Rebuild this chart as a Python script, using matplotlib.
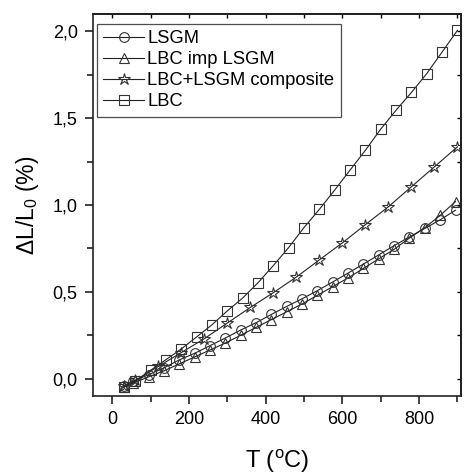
import numpy as np
import matplotlib
matplotlib.use("Agg")
import matplotlib.pyplot as plt
from matplotlib.ticker import MultipleLocator, FuncFormatter

plt.rcParams['font.family'] = ['Liberation Sans', 'DejaVu Sans']
plt.rcParams['mathtext.fontset'] = 'custom'
plt.rcParams['mathtext.rm'] = 'Liberation Sans'
plt.rcParams['mathtext.it'] = 'Liberation Sans'

# temperatures (C) and dL/L0 (%)
t_lsgm = [30, 55, 95, 135, 175, 215, 255, 295, 335, 375, 415, 455, 495, 535, 575,
          615, 655, 695, 735, 775, 815, 855, 895]
lsgm = [-0.045, -0.015, 0.023, 0.062, 0.108, 0.146, 0.19, 0.234, 0.28, 0.322, 0.37,
        0.416, 0.46, 0.507, 0.557, 0.608, 0.66, 0.713, 0.766, 0.816, 0.865, 0.915, 0.97]

t_imp = t_lsgm
imp = [-0.05, -0.025, 0.01, 0.045, 0.085, 0.125, 0.165, 0.205, 0.25, 0.295, 0.34,
       0.385, 0.43, 0.48, 0.53, 0.58, 0.635, 0.69, 0.745, 0.81, 0.87, 0.94, 1.02]

t_comp = [30, 60, 120, 180, 240, 300, 360, 420, 480, 540, 600, 660, 720, 780, 840, 900]
comp = [-0.04, -0.01, 0.07, 0.15, 0.23, 0.32, 0.41, 0.495, 0.585, 0.684, 0.782,
        0.887, 0.99, 1.105, 1.22, 1.335]

t_lbc = [30, 60, 100, 140, 180, 220, 260, 300, 340, 380, 420, 460, 500, 540, 580,
         620, 660, 700, 740, 780, 820, 860, 900]
lbc = [-0.05, -0.016, 0.048, 0.109, 0.171, 0.24, 0.31, 0.39, 0.464, 0.552, 0.651,
       0.755, 0.87, 0.975, 1.086, 1.201, 1.315, 1.437, 1.546, 1.648, 1.757, 1.881, 2.006]

series = [
    (t_lsgm, lsgm, 'o', 'LSGM'),
    (t_imp, imp, '^', 'LBC imp LSGM'),
    (t_comp, comp, '*', 'LBC+LSGM composite'),
    (t_lbc, lbc, 's', 'LBC'),
]

fig = plt.figure(figsize=(4.65, 4.75), dpi=100)
ax = fig.add_axes([0.2, 0.1663, 0.792, 0.8042])

for t, v, m, lab in series:
    ms = 9 if m == '*' else 7
    ax.plot(t, v, color='#222222', lw=0.8, marker=m, ms=ms, mfc='none',
            mec='#333333', mew=0.8, label=lab)

ax.set_xlim(-50, 910)
ax.set_ylim(-0.1, 2.1)
ax.xaxis.set_major_locator(MultipleLocator(200))
ax.xaxis.set_minor_locator(MultipleLocator(100))
ax.yaxis.set_major_locator(MultipleLocator(0.5))
ax.yaxis.set_minor_locator(MultipleLocator(0.25))
ax.yaxis.set_major_formatter(FuncFormatter(lambda v, p: f"{v:.1f}".replace('.', ',')))

for s in ax.spines.values():
    s.set_linewidth(1.2)
    s.set_color('#222222')
ax.tick_params(which='major', direction='out', length=6, width=1.2, labelsize=13,
               color='#222222', pad=5)
ax.tick_params(which='minor', direction='out', length=4, width=1.2, color='#222222')

# inward mirrored ticks on top and right
top = ax.secondary_xaxis('top')
top.xaxis.set_major_locator(MultipleLocator(200))
top.xaxis.set_minor_locator(MultipleLocator(100))
top.tick_params(which='both', direction='in', length=3, width=1.0, labeltop=False)
right = ax.secondary_yaxis('right')
right.yaxis.set_major_locator(MultipleLocator(0.5))
right.yaxis.set_minor_locator(MultipleLocator(0.25))
right.tick_params(which='both', direction='in', length=3, width=1.0, labelright=False)
top.spines['top'].set_linewidth(1.2)
right.spines['right'].set_linewidth(1.2)

ax.set_xlabel(r'T ($\mathregular{^o}$C)', fontsize=17, labelpad=14)
ax.set_ylabel(r'$\Delta$L/L$\mathregular{_0}$ (%)', fontsize=16.5, labelpad=8)

leg = ax.legend(loc='upper left', bbox_to_anchor=(0.011, 0.974), borderaxespad=0,
                fontsize=13.2, frameon=True, fancybox=False, edgecolor='#222222',
                handlelength=2.2, handletextpad=0.2, labelspacing=0.22,
                borderpad=0.35)
leg.get_frame().set_linewidth(0.9)

fig.savefig('out.png', dpi=100)
